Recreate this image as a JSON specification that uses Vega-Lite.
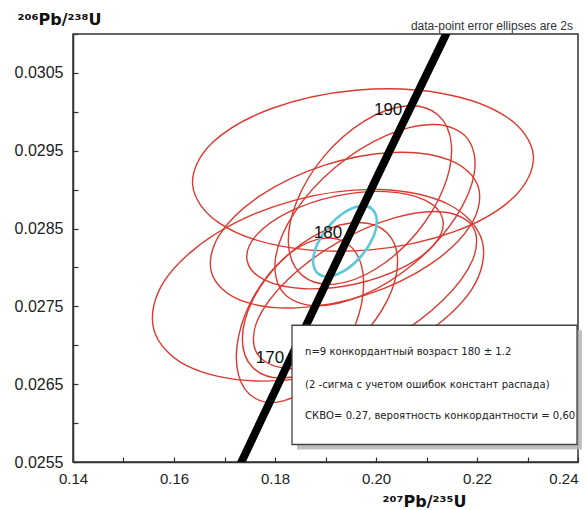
{
  "$schema": "https://vega.github.io/schema/vega-lite/v6.json",
  "width": 505,
  "height": 428,
  "autosize": {"type": "none"},
  "padding": {"left": 73, "top": 34, "right": 9, "bottom": 48},
  "background": "white",
  "config": {"view": {"stroke": "#333", "strokeWidth": 1.5}, "font": "Liberation Sans"},
  "title": {"text": "²⁰⁷Pb/²³⁵U", "anchor": "start", "frame": "group", "dx": 300, "offset": 22, "baseline": "alphabetic", "font": "DejaVu Sans", "fontSize": 17, "fontWeight": "bold", "color": "#111"},
  "datasets": {
    "ell": [
      {"e": "E1", "kind": "grain", "k": 0, "x": 0.23115, "y": 0.029443}, {"e": "E1", "kind": "grain", "k": 1, "x": 0.22733, "y": 0.028905}, {"e": "E1", "kind": "grain", "k": 2, "x": 0.21549, "y": 0.02846}, {"e": "E1", "kind": "grain", "k": 3, "x": 0.19881, "y": 0.028226}, {"e": "E1", "kind": "grain", "k": 4, "x": 0.18174, "y": 0.028267}, {"e": "E1", "kind": "grain", "k": 5, "x": 0.16891, "y": 0.028573}, {"e": "E1", "kind": "grain", "k": 6, "x": 0.1637, "y": 0.02906}, {"e": "E1", "kind": "grain", "k": 7, "x": 0.16752, "y": 0.029598}, {"e": "E1", "kind": "grain", "k": 8, "x": 0.17937, "y": 0.030043}, {"e": "E1", "kind": "grain", "k": 9, "x": 0.19604, "y": 0.030277}, {"e": "E1", "kind": "grain", "k": 10, "x": 0.21311, "y": 0.030236}, {"e": "E1", "kind": "grain", "k": 11, "x": 0.22594, "y": 0.02993},
      {"e": "E2", "kind": "grain", "k": 0, "x": 0.22103, "y": 0.028338}, {"e": "E2", "kind": "grain", "k": 1, "x": 0.21893, "y": 0.027715}, {"e": "E2", "kind": "grain", "k": 2, "x": 0.20867, "y": 0.027107}, {"e": "E2", "kind": "grain", "k": 3, "x": 0.19303, "y": 0.026678}, {"e": "E2", "kind": "grain", "k": 4, "x": 0.17616, "y": 0.026541}, {"e": "E2", "kind": "grain", "k": 5, "x": 0.16261, "y": 0.026734}, {"e": "E2", "kind": "grain", "k": 6, "x": 0.156, "y": 0.027205}, {"e": "E2", "kind": "grain", "k": 7, "x": 0.1581, "y": 0.027828}, {"e": "E2", "kind": "grain", "k": 8, "x": 0.16836, "y": 0.028436}, {"e": "E2", "kind": "grain", "k": 9, "x": 0.184, "y": 0.028866}, {"e": "E2", "kind": "grain", "k": 10, "x": 0.20087, "y": 0.029002}, {"e": "E2", "kind": "grain", "k": 11, "x": 0.21442, "y": 0.028809},
      {"e": "E3", "kind": "grain", "k": 0, "x": 0.22024, "y": 0.029037}, {"e": "E3", "kind": "grain", "k": 1, "x": 0.21877, "y": 0.028546}, {"e": "E3", "kind": "grain", "k": 2, "x": 0.21065, "y": 0.028037}, {"e": "E3", "kind": "grain", "k": 3, "x": 0.19802, "y": 0.027647}, {"e": "E3", "kind": "grain", "k": 4, "x": 0.18428, "y": 0.027481}, {"e": "E3", "kind": "grain", "k": 5, "x": 0.17311, "y": 0.027581}, {"e": "E3", "kind": "grain", "k": 6, "x": 0.16749, "y": 0.027922}, {"e": "E3", "kind": "grain", "k": 7, "x": 0.16895, "y": 0.028412}, {"e": "E3", "kind": "grain", "k": 8, "x": 0.17707, "y": 0.028922}, {"e": "E3", "kind": "grain", "k": 9, "x": 0.1897, "y": 0.029312}, {"e": "E3", "kind": "grain", "k": 10, "x": 0.20345, "y": 0.029478}, {"e": "E3", "kind": "grain", "k": 11, "x": 0.21461, "y": 0.029378},
      {"e": "E4", "kind": "grain", "k": 0, "x": 0.21218, "y": 0.029965}, {"e": "E4", "kind": "grain", "k": 1, "x": 0.21493, "y": 0.029577}, {"e": "E4", "kind": "grain", "k": 2, "x": 0.21337, "y": 0.029017}, {"e": "E4", "kind": "grain", "k": 3, "x": 0.20792, "y": 0.028433}, {"e": "E4", "kind": "grain", "k": 4, "x": 0.20002, "y": 0.027983}, {"e": "E4", "kind": "grain", "k": 5, "x": 0.1918, "y": 0.027786}, {"e": "E4", "kind": "grain", "k": 6, "x": 0.18545, "y": 0.027895}, {"e": "E4", "kind": "grain", "k": 7, "x": 0.18269, "y": 0.028282}, {"e": "E4", "kind": "grain", "k": 8, "x": 0.18426, "y": 0.028842}, {"e": "E4", "kind": "grain", "k": 9, "x": 0.1897, "y": 0.029427}, {"e": "E4", "kind": "grain", "k": 10, "x": 0.1976, "y": 0.029877}, {"e": "E4", "kind": "grain", "k": 11, "x": 0.20582, "y": 0.030074},
      {"e": "E5", "kind": "grain", "k": 0, "x": 0.218, "y": 0.029665}, {"e": "E5", "kind": "grain", "k": 1, "x": 0.2195, "y": 0.029227}, {"e": "E5", "kind": "grain", "k": 2, "x": 0.21574, "y": 0.02864}, {"e": "E5", "kind": "grain", "k": 3, "x": 0.2077, "y": 0.028061}, {"e": "E5", "kind": "grain", "k": 4, "x": 0.19752, "y": 0.027647}, {"e": "E5", "kind": "grain", "k": 5, "x": 0.18798, "y": 0.027508}, {"e": "E5", "kind": "grain", "k": 6, "x": 0.1816, "y": 0.02768}, {"e": "E5", "kind": "grain", "k": 7, "x": 0.1801, "y": 0.028118}, {"e": "E5", "kind": "grain", "k": 8, "x": 0.18386, "y": 0.028705}, {"e": "E5", "kind": "grain", "k": 9, "x": 0.1919, "y": 0.029284}, {"e": "E5", "kind": "grain", "k": 10, "x": 0.20208, "y": 0.029698}, {"e": "E5", "kind": "grain", "k": 11, "x": 0.21162, "y": 0.029837},
      {"e": "E6", "kind": "grain", "k": 0, "x": 0.20222, "y": 0.028443}, {"e": "E6", "kind": "grain", "k": 1, "x": 0.20428, "y": 0.028078}, {"e": "E6", "kind": "grain", "k": 2, "x": 0.20224, "y": 0.027577}, {"e": "E6", "kind": "grain", "k": 3, "x": 0.19661, "y": 0.027078}, {"e": "E6", "kind": "grain", "k": 4, "x": 0.18893, "y": 0.026712}, {"e": "E6", "kind": "grain", "k": 5, "x": 0.18123, "y": 0.02658}, {"e": "E6", "kind": "grain", "k": 6, "x": 0.1756, "y": 0.026714}, {"e": "E6", "kind": "grain", "k": 7, "x": 0.17354, "y": 0.027079}, {"e": "E6", "kind": "grain", "k": 8, "x": 0.17558, "y": 0.02758}, {"e": "E6", "kind": "grain", "k": 9, "x": 0.18121, "y": 0.028079}, {"e": "E6", "kind": "grain", "k": 10, "x": 0.18889, "y": 0.028445}, {"e": "E6", "kind": "grain", "k": 11, "x": 0.19659, "y": 0.028577},
      {"e": "E7", "kind": "grain", "k": 0, "x": 0.19386, "y": 0.028324}, {"e": "E7", "kind": "grain", "k": 1, "x": 0.19713, "y": 0.028023}, {"e": "E7", "kind": "grain", "k": 2, "x": 0.19713, "y": 0.027533}, {"e": "E7", "kind": "grain", "k": 3, "x": 0.19386, "y": 0.026986}, {"e": "E7", "kind": "grain", "k": 4, "x": 0.18822, "y": 0.02653}, {"e": "E7", "kind": "grain", "k": 5, "x": 0.18168, "y": 0.026285}, {"e": "E7", "kind": "grain", "k": 6, "x": 0.17604, "y": 0.026319}, {"e": "E7", "kind": "grain", "k": 7, "x": 0.17277, "y": 0.02662}, {"e": "E7", "kind": "grain", "k": 8, "x": 0.17277, "y": 0.027109}, {"e": "E7", "kind": "grain", "k": 9, "x": 0.17604, "y": 0.027656}, {"e": "E7", "kind": "grain", "k": 10, "x": 0.18168, "y": 0.028113}, {"e": "E7", "kind": "grain", "k": 11, "x": 0.18822, "y": 0.028357},
      {"e": "E8", "kind": "grain", "k": 0, "x": 0.21927, "y": 0.028512}, {"e": "E8", "kind": "grain", "k": 1, "x": 0.21913, "y": 0.028097}, {"e": "E8", "kind": "grain", "k": 2, "x": 0.21325, "y": 0.02758}, {"e": "E8", "kind": "grain", "k": 3, "x": 0.20327, "y": 0.027095}, {"e": "E8", "kind": "grain", "k": 4, "x": 0.19182, "y": 0.026774}, {"e": "E8", "kind": "grain", "k": 5, "x": 0.18198, "y": 0.026705}, {"e": "E8", "kind": "grain", "k": 6, "x": 0.17638, "y": 0.026903}, {"e": "E8", "kind": "grain", "k": 7, "x": 0.17651, "y": 0.027317}, {"e": "E8", "kind": "grain", "k": 8, "x": 0.1824, "y": 0.027835}, {"e": "E8", "kind": "grain", "k": 9, "x": 0.19238, "y": 0.02832}, {"e": "E8", "kind": "grain", "k": 10, "x": 0.20382, "y": 0.02864}, {"e": "E8", "kind": "grain", "k": 11, "x": 0.21366, "y": 0.02871},
      {"e": "E9", "kind": "grain", "k": 0, "x": 0.21323, "y": 0.028618}, {"e": "E9", "kind": "grain", "k": 1, "x": 0.21157, "y": 0.028299}, {"e": "E9", "kind": "grain", "k": 2, "x": 0.20515, "y": 0.027994}, {"e": "E9", "kind": "grain", "k": 3, "x": 0.19572, "y": 0.027784}, {"e": "E9", "kind": "grain", "k": 4, "x": 0.18578, "y": 0.027727}, {"e": "E9", "kind": "grain", "k": 5, "x": 0.17802, "y": 0.027836}, {"e": "E9", "kind": "grain", "k": 6, "x": 0.1745, "y": 0.028083}, {"e": "E9", "kind": "grain", "k": 7, "x": 0.17616, "y": 0.028402}, {"e": "E9", "kind": "grain", "k": 8, "x": 0.18257, "y": 0.028707}, {"e": "E9", "kind": "grain", "k": 9, "x": 0.192, "y": 0.028917}, {"e": "E9", "kind": "grain", "k": 10, "x": 0.20194, "y": 0.028975}, {"e": "E9", "kind": "grain", "k": 11, "x": 0.2097, "y": 0.028866},
      {"e": "M", "kind": "mean", "k": 0, "x": 0.19921, "y": 0.028752}, {"e": "M", "kind": "mean", "k": 1, "x": 0.20016, "y": 0.028606}, {"e": "M", "kind": "mean", "k": 2, "x": 0.19943, "y": 0.028387}, {"e": "M", "kind": "mean", "k": 3, "x": 0.19721, "y": 0.028156}, {"e": "M", "kind": "mean", "k": 4, "x": 0.19408, "y": 0.027972}, {"e": "M", "kind": "mean", "k": 5, "x": 0.19089, "y": 0.027887}, {"e": "M", "kind": "mean", "k": 6, "x": 0.18851, "y": 0.027923}, {"e": "M", "kind": "mean", "k": 7, "x": 0.18756, "y": 0.02807}, {"e": "M", "kind": "mean", "k": 8, "x": 0.1883, "y": 0.028289}, {"e": "M", "kind": "mean", "k": 9, "x": 0.19051, "y": 0.028519}, {"e": "M", "kind": "mean", "k": 10, "x": 0.19364, "y": 0.028703}, {"e": "M", "kind": "mean", "k": 11, "x": 0.19683, "y": 0.028788}
    ],
    "concordia": [
      {"age": 160, "x": 0.17067, "y": 0.025131}, {"age": 165, "x": 0.17645, "y": 0.025926}, {"age": 170, "x": 0.18226, "y": 0.026722}, {"age": 175, "x": 0.18809, "y": 0.027519}, {"age": 180, "x": 0.19396, "y": 0.028316}, {"age": 185, "x": 0.19985, "y": 0.029114}, {"age": 190, "x": 0.20577, "y": 0.029913}, {"age": 195, "x": 0.21173, "y": 0.030711}, {"age": 200, "x": 0.21771, "y": 0.031511}
    ],
    "agelabels": [
      {"label": "190", "x": 0.2024, "y": 0.030024}, {"label": "180", "x": 0.1905, "y": 0.028441}, {"label": "170", "x": 0.17901, "y": 0.026832}
    ],
    "shadow": [{"x": 0.18436, "x2": 0.24079, "y": 0.027192, "y2": 0.025661}],
    "box": [{"x": 0.18337, "x2": 0.2398, "y": 0.027257, "y2": 0.025725}],
    "boxtext": [
      {"line": 1, "x": 0.18594, "y": 0.026909, "label": "n=9 конкордантный возраст 180 ± 1.2"},
      {"line": 2, "x": 0.18594, "y": 0.026485, "label": "(2 -сигма с учетом ошибок констант  распада)"},
      {"line": 3, "x": 0.18594, "y": 0.026086, "label": "СКВО= 0.27, вероятность конкордантности = 0,60"}
    ],
    "note": [{"x": 0.23901, "y": 0.031053, "label": "data-point error ellipses are 2s"}]
  },
  "encoding": {
    "x": {
      "field": "x", "type": "quantitative",
      "scale": {"domain": [0.14, 0.24], "nice": false, "zero": false},
      "axis": {
        "title": "²⁰⁷Pb/²³⁵U",
        "values": [0.14, 0.15, 0.16, 0.17, 0.18, 0.19, 0.2, 0.21, 0.22, 0.23, 0.24],
        "labelExpr": "round(datum.value*100) % 2 == 0 ? format(datum.value, '.2f') : ''",
        "grid": false, "tickSize": -5, "tickColor": "#333", "tickWidth": 1.2,
        "domainColor": "#333", "domainWidth": 1.5,
        "labelFontSize": 15, "labelColor": "#222", "labelPadding": 14, "labelOverlap": false, "labelFlush": false,
        "labelAlign": {"condition": {"test": "datum.value > 0.235", "value": "right"}, "value": "center"},
        "titleFont": "DejaVu Sans", "titleFontSize": 16, "titleFontWeight": "bold", "titleColor": "#111",
        "titleX": 351, "titleY": 39, "titleAlign": "center", "titleBaseline": "middle"
      }
    },
    "y": {
      "field": "y", "type": "quantitative",
      "scale": {"domain": [0.0255, 0.031], "nice": false, "zero": false},
      "axis": {
        "title": "²⁰⁶Pb/²³⁸U",
        "values": [0.0255, 0.026, 0.0265, 0.027, 0.0275, 0.028, 0.0285, 0.029, 0.0295, 0.03, 0.0305, 0.031],
        "labelExpr": "round(datum.value*10000) % 10 == 5 ? format(datum.value, '.4f') : ''",
        "grid": false, "tickSize": -5, "tickColor": "#333", "tickWidth": 1.2,
        "domainColor": "#333", "domainWidth": 1.5,
        "labelFontSize": 16, "labelColor": "#222", "labelPadding": 15, "labelOverlap": false, "labelFlush": false,
        "titleFont": "DejaVu Sans", "titleFontSize": 16, "titleFontWeight": "bold", "titleColor": "#111", "titleAngle": 0,
        "titleX": -56, "titleY": -15, "titleAlign": "left", "titleBaseline": "middle"
      }
    }
  },
  "layer": [
    {
      "data": {"name": "ell"},
      "transform": [{"filter": "datum.kind == 'grain'"}],
      "mark": {"type": "line", "interpolate": "cardinal-closed", "color": "#dc3a30", "strokeWidth": 1.4},
      "encoding": {"detail": {"field": "e"}, "order": {"field": "k", "type": "quantitative"}}
    },
    {
      "data": {"name": "ell"},
      "transform": [{"filter": "datum.kind == 'mean'"}],
      "mark": {"type": "line", "interpolate": "cardinal-closed", "color": "#5ec8d8", "strokeWidth": 2.6},
      "encoding": {"detail": {"field": "e"}, "order": {"field": "k", "type": "quantitative"}}
    },
    {
      "data": {"name": "concordia"},
      "mark": {"type": "line", "color": "#000", "strokeWidth": 8, "clip": true},
      "encoding": {"order": {"field": "age", "type": "quantitative"}}
    },
    {
      "data": {"name": "agelabels"},
      "mark": {"type": "text", "fontSize": 17, "color": "#111", "align": "center", "baseline": "middle"},
      "encoding": {"text": {"field": "label"}}
    },
    {
      "data": {"name": "shadow"},
      "mark": {"type": "rect", "color": "#b5b5b5", "opacity": 0.85},
      "encoding": {"x2": {"field": "x2"}, "y2": {"field": "y2"}}
    },
    {
      "data": {"name": "box"},
      "mark": {"type": "rect", "fill": "white", "stroke": "#444", "strokeWidth": 1.3},
      "encoding": {"x2": {"field": "x2"}, "y2": {"field": "y2"}}
    },
    {
      "data": {"name": "boxtext"},
      "mark": {"type": "text", "font": "DejaVu Sans Condensed, Liberation Sans", "fontSize": 11.2, "color": "#222", "align": "left", "baseline": "middle"},
      "encoding": {"text": {"field": "label"}}
    },
    {
      "data": {"name": "note"},
      "mark": {"type": "text", "fontSize": 12, "color": "#333", "align": "right", "baseline": "alphabetic"},
      "encoding": {"text": {"field": "label"}}
    }
  ]
}
